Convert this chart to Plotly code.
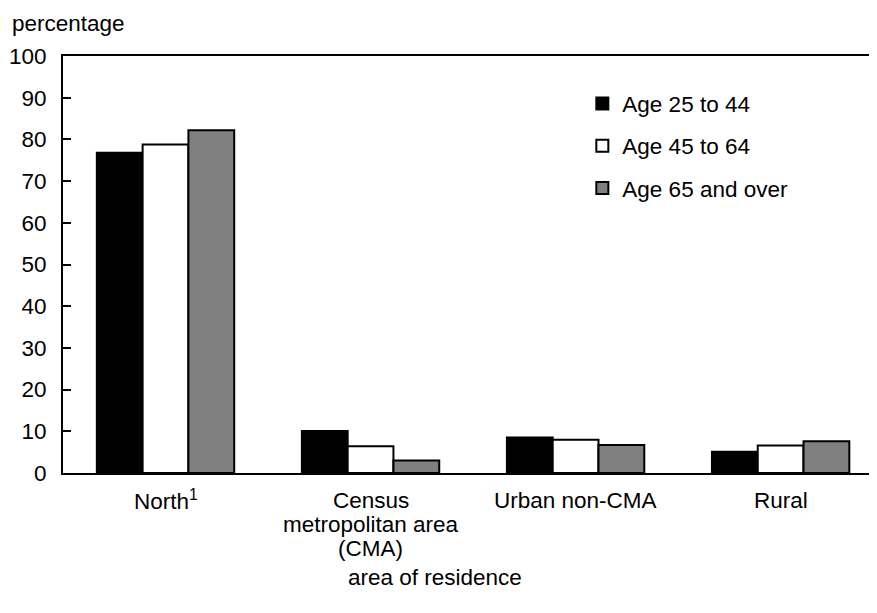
# area of residence by age group - grouped bar chart
import plotly.graph_objects as go

categories = ["North<sup>1</sup>", "Census<br>metropolitan area<br>(CMA)", "Urban non-CMA", "Rural"]
series_names = ["Age 25 to 44", "Age 45 to 64", "Age 65 and over"]
age_25_44 = [76.8, 10.1, 8.5, 5.1]
age_45_64 = [78.8, 6.4, 8.0, 6.6]
age_65_over = [82.2, 3.0, 6.7, 7.6]
y_ticks = [0, 10, 20, 30, 40, 50, 60, 70, 80, 90, 100]

FONT = "Liberation Sans, Arial, sans-serif"
FS = 22.5
fills = ["#000000", "#ffffff", "#808080"]
PW, PH = 814, 417  # plot area size in px

fig = go.Figure()
for i, (name, vals) in enumerate(zip(series_names, [age_25_44, age_45_64, age_65_over])):
    fig.add_trace(go.Bar(
        x=list(range(len(categories))), y=vals, name=name,
        legendgroup=name,
        marker=dict(color=fills[i], line=dict(color="black", width=2)),
    ))

# page body adds an 8px offset, so margins are shifted to compensate
fig.update_layout(
    width=877, height=613,
    barmode="group",
    bargap=0.33, bargroupgap=0,
    paper_bgcolor="white", plot_bgcolor="white",
    font=dict(family=FONT, size=FS, color="black"),
    margin=dict(l=55, r=8, t=48, b=148),
    showlegend=True,
    legend=dict(x=0.638, y=0.937, xanchor="left", yanchor="top",
                bgcolor="rgba(0,0,0,0)", tracegroupgap=10,
                font=dict(size=FS)),
)

fig.update_xaxes(
    range=[-0.5, 3.47],
    tickvals=list(range(len(categories))), ticktext=[""] * len(categories),
    showline=True, linecolor="black", linewidth=2, mirror=True,
    ticks="", showgrid=False, zeroline=False, automargin=False,
)
fig.update_yaxes(
    range=[0, 100], tickvals=y_ticks,
    showline=True, linecolor="black", linewidth=2,
    ticks="inside", ticklen=8, tickwidth=2, tickcolor="black",
    showgrid=False, zeroline=False, automargin=False,
    ticklabelstandoff=10,
    tickfont=dict(size=FS),
)

# category labels, one line at a time for tighter line spacing
for i, cat in enumerate(categories):
    for j, line in enumerate(cat.split("<br>")):
        fig.add_annotation(text=line, xref="x", yref="paper",
                           x=i, y=-(27 + 24 * j) / PH, xanchor="center", yanchor="middle",
                           showarrow=False, font=dict(size=FS))

fig.add_annotation(text="percentage", xref="paper", yref="paper",
                   x=-53 / PW, y=1 + 47 / PH, xanchor="left", yanchor="top",
                   showarrow=False, font=dict(size=FS))
fig.add_annotation(text="area of residence", xref="paper", yref="paper",
                   x=(435 - 63) / PW, y=-(577 - 473) / PH, xanchor="center", yanchor="middle",
                   showarrow=False, font=dict(size=FS))

fig.write_html("out.html")
